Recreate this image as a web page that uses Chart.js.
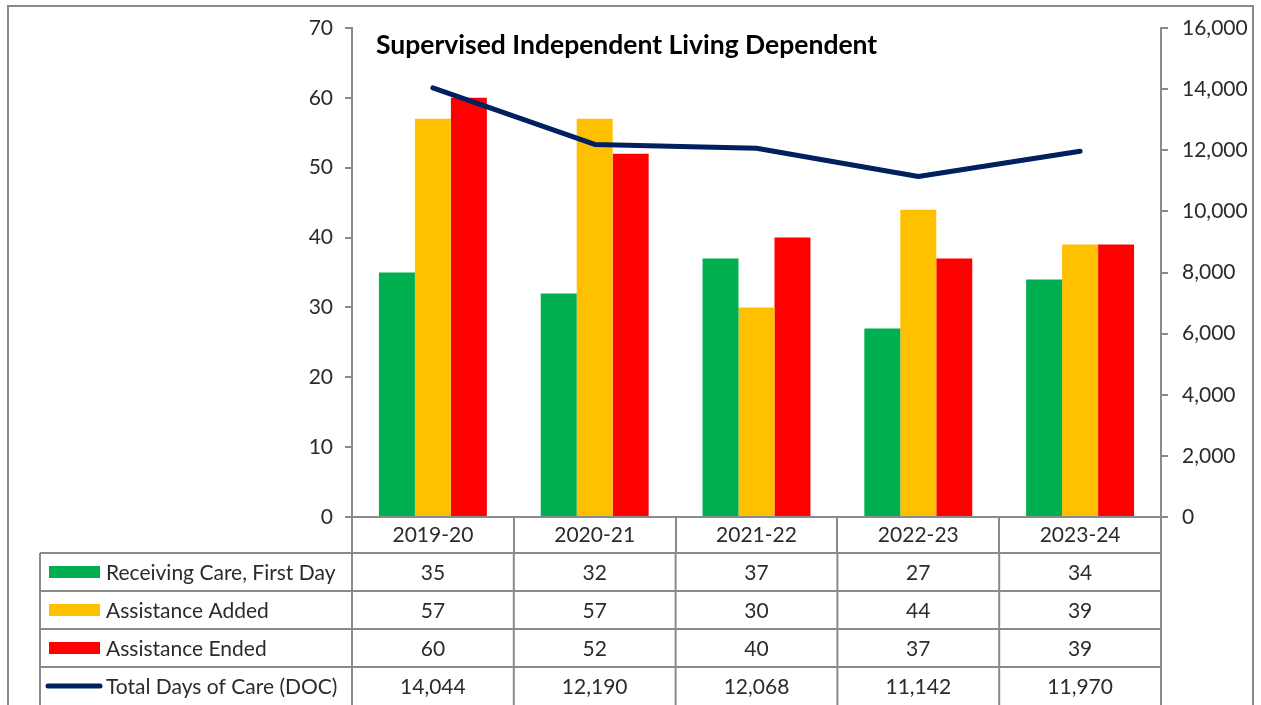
<!DOCTYPE html>
<html>
<head>
<meta charset="utf-8">
<script src="https://cdn.jsdelivr.net/npm/chart.js@4.4.1/dist/chart.umd.min.js"></script>
<style>
html,body{margin:0;padding:0;background:#fff;}
#wrap{width:1261px;height:705px;position:relative;}
</style>
</head>
<body>
<div id="wrap"><canvas id="c" width="1261" height="705"></canvas></div>
<script>
const categories = ["2019-20", "2020-21", "2021-22", "2022-23", "2023-24"];
const receivingCare = [35, 32, 37, 27, 34];
const assistanceAdded = [57, 57, 30, 44, 39];
const assistanceEnded = [60, 52, 40, 37, 39];
const totalDaysOfCare = [14044, 12190, 12068, 11142, 11970];
const leftTicks = [0, 10, 20, 30, 40, 50, 60, 70];
const rightTicks = [0, 2000, 4000, 6000, 8000, 10000, 12000, 14000, 16000];
const titleText = "Supervised Independent Living Dependent";
const seriesNames = ["Receiving Care, First Day", "Assistance Added", "Assistance Ended", "Total Days of Care (DOC)"];

const FONT = "Lato";
const FS = 21;
const GRAY = "#8a8a8a";
const TXT = "#2b2b2b";
const colors = ["#00B050", "#FFC000", "#FF0000", "#002060"];

const fmt = v => v.toLocaleString("en-US");

const tablePlugin = {
  id: "tablePlugin",
  beforeDraw(chart) {
    const ctx = chart.ctx;
    ctx.save();
    ctx.fillStyle = "#fff";
    ctx.fillRect(0, 0, chart.width, chart.height);
    ctx.restore();
  },
  afterDraw(chart) {
    const ctx = chart.ctx;
    const xs = chart.scales.x;
    const area = chart.chartArea;
    const n = categories.length;
    const catW = xs.getPixelForValue(1) - xs.getPixelForValue(0);
    const tableLeft = 40;
    const rowTop = area.bottom + 36;
    const rowH = 38;
    const tableRight = xs.getPixelForValue(n - 1) + catW / 2;
    ctx.save();
    // outer border
    ctx.strokeStyle = GRAY;
    ctx.lineWidth = 2;
    ctx.strokeRect(8, 6, 1245, 720);
    // title
    ctx.fillStyle = "#000";
    ctx.font = "bold 26.5px " + FONT;
    ctx.textAlign = "left";
    ctx.textBaseline = "middle";
    ctx.fillText(titleText, area.left + 24, 45);
    // table lines
    ctx.strokeStyle = GRAY;
    ctx.lineWidth = 2;
    ctx.beginPath();
    for (let r = 0; r < 4; r++) {
      const y = rowTop + r * rowH;
      ctx.moveTo(tableLeft, y);
      ctx.lineTo(tableRight, y);
    }
    const bottom = rowTop + 4 * rowH + 2;
    ctx.moveTo(tableLeft, rowTop);
    ctx.lineTo(tableLeft, bottom);
    for (let i = 0; i <= n; i++) {
      const x = xs.getPixelForValue(0) - catW / 2 + i * catW;
      ctx.moveTo(x, rowTop);
      ctx.lineTo(x, bottom);
    }
    ctx.stroke();
    // rows
    const rowsData = [receivingCare, assistanceAdded, assistanceEnded, totalDaysOfCare];
    ctx.font = FS + "px " + FONT;
    ctx.textBaseline = "middle";
    rowsData.forEach((arr, r) => {
      const cy = rowTop + r * rowH + rowH / 2;
      if (r < 3) {
        ctx.fillStyle = colors[r];
        ctx.fillRect(49, cy - 6, 51, 12);
      } else {
        ctx.strokeStyle = colors[3];
        ctx.lineWidth = 5;
        ctx.lineCap = "round";
        ctx.beginPath();
        ctx.moveTo(48, cy);
        ctx.lineTo(100, cy);
        ctx.stroke();
      }
      ctx.fillStyle = TXT;
      ctx.textAlign = "left";
      ctx.fillText(seriesNames[r], 106, cy + 1);
      ctx.textAlign = "center";
      arr.forEach((v, i) => {
        ctx.fillText(fmt(v), xs.getPixelForValue(i), cy + 1);
      });
    });
    ctx.restore();
  }
};

const axisGrid = { drawOnChartArea: false, color: GRAY, lineWidth: 2, tickLength: 7 };

new Chart(document.getElementById("c"), {
  data: {
    labels: categories,
    datasets: [
      { type: "line", label: seriesNames[3], data: totalDaysOfCare, yAxisID: "y1", borderColor: colors[3], backgroundColor: colors[3], borderWidth: 5, pointRadius: 0, borderCapStyle: "round", borderJoinStyle: "round", order: 0, tension: 0 },
      { type: "bar", label: seriesNames[0], data: receivingCare, yAxisID: "y", backgroundColor: colors[0], order: 1, categoryPercentage: 0.667, barPercentage: 1.0 },
      { type: "bar", label: seriesNames[1], data: assistanceAdded, yAxisID: "y", backgroundColor: colors[1], order: 1, categoryPercentage: 0.667, barPercentage: 1.0 },
      { type: "bar", label: seriesNames[2], data: assistanceEnded, yAxisID: "y", backgroundColor: colors[2], order: 1, categoryPercentage: 0.667, barPercentage: 1.0 }
    ]
  },
  options: {
    responsive: false,
    animation: false,
    layout: { padding: { top: 28, left: 0, right: 0, bottom: 0 } },
    plugins: { legend: { display: false }, tooltip: { enabled: false }, title: { display: false } },
    scales: {
      x: {
        type: "category",
        offset: true,
        grid: { offset: true, drawOnChartArea: false, color: GRAY, lineWidth: 2, tickLength: 36 },
        border: { color: GRAY, width: 2 },
        ticks: { color: TXT, font: { family: FONT, size: FS }, padding: -30.5, maxRotation: 0, autoSkip: false },
        afterFit(s) { s.height = 188; }
      },
      y: {
        position: "left",
        min: 0, max: 70,
        afterBuildTicks(s) { s.ticks = leftTicks.map(v => ({ value: v })); },
        grid: axisGrid,
        border: { color: GRAY, width: 2 },
        ticks: { color: TXT, font: { family: FONT, size: FS }, padding: 12 },
        afterFit(s) { s.width = 352; }
      },
      y1: {
        position: "right",
        min: 0, max: 16000,
        afterBuildTicks(s) { s.ticks = rightTicks.map(v => ({ value: v })); },
        grid: axisGrid,
        border: { color: GRAY, width: 2 },
        ticks: { color: TXT, font: { family: FONT, size: FS }, padding: 14, callback: v => fmt(v) },
        afterFit(s) { s.width = 100; }
      }
    }
  },
  plugins: [tablePlugin]
});
</script>
</body>
</html>
